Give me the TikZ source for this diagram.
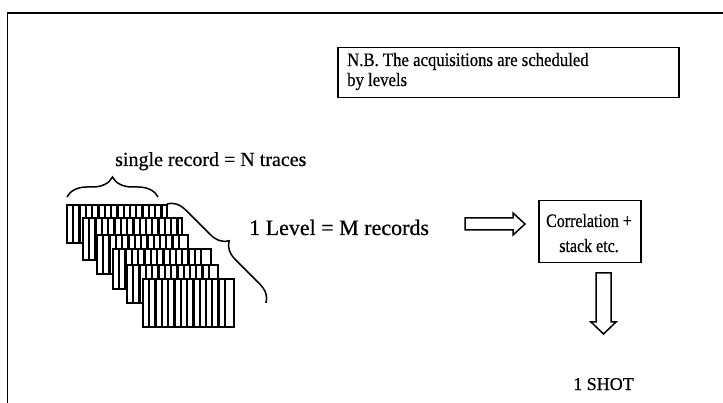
\documentclass[tikz,border=0pt]{standalone}
\usepackage{fontspec}
\setmainfont[FakeBold=0.6]{Liberation Serif}
\newfontfamily\narrowserif[FakeStretch=0.88,FakeBold=0.6]{Liberation Serif}
\newfontfamily\condserif[FakeStretch=0.84,FakeBold=0.6]{Liberation Serif}
\usetikzlibrary{decorations.pathreplacing}
\begin{document}
\begin{tikzpicture}[x=1pt,y=-1pt,line join=miter]
\tikzset{
  frame/.style={line width=1.3pt},
  txt/.style={inner sep=0pt},
  boxed/.style={draw, line width=1.5pt, inner sep=0pt},
  rec/.style={draw, line width=2pt, fill=white},
  stripe/.style={line width=2.3pt},
  hollow/.style={draw, line width=1.5pt, fill=white},
  brc/.style={decorate, decoration={brace, amplitude=#1}, line width=1.5pt}
}
\useasboundingbox (0,0) rectangle (723,403);
% outer frame (only top and left visible)
\draw[frame] (7.5,403) -- (7.5,13) -- (723,13);

% N.B. box
\node[boxed, minimum width=341pt, minimum height=50pt, anchor=north west] (nb) at (337,47) {};
\node[txt, anchor=base west, align=left, font=\narrowserif\fontsize{19}{20}\selectfont] (nbt) at (347,86) {N.B. The acquisitions are scheduled\\by levels};

% records
\foreach \xa/\ya/\xb/\yb [count=\i] in {67/205/167/243, 83/218/182/260, 97/235/188/274, 113/249/211/289, 127/265/218/303, 143/279/234/327}{
  \draw[rec] (\xa,\ya) coordinate (r\i nw) rectangle (\xb,\yb) coordinate (r\i se);
  \pgfmathtruncatemacro\n{(\xb-\xa-4)/6.3}
  \foreach \k in {1,...,\n}{
    \draw[stripe] ({\xa+\k*6.3},\ya) -- ({\xa+\k*6.3},\yb);
  }
}

% braces
\coordinate (b1s) at (67,197);
\coordinate (b1e) at (158,197);
\draw[brc=20pt] (b1s) -- (b1e);
\node[txt, anchor=base west, font=\fontsize{20}{22}\selectfont] (single) at (115,166) {single record = N traces};

\coordinate (b2s) at (167,204);
\coordinate (b2e) at (266,303);
\draw[brc=18pt] (b2s) -- (b2e);
\node[txt, anchor=base west, font=\fontsize{22}{24}\selectfont] (level) at (249,235) {1 Level = M records};

% right hollow arrow
\draw[hollow] (465,218) -- (513,218) -- (513,213) -- (525,224) -- (513,235) -- (513,230) -- (465,230) -- cycle;

% correlation box
\node[boxed, minimum width=102pt, minimum height=62pt, anchor=north west] (corr) at (538,200) {};
\node[txt, anchor=base, align=center, font=\condserif\fontsize{19}{25}\selectfont] (corrt) at (589,252) {Correlation +\\stack etc.};

% down hollow arrow
\draw[hollow] (596,273) -- (611,273) -- (611,322) -- (616,322) -- (603.5,334) -- (591,322) -- (596,322) -- cycle;

% 1 SHOT
\node[txt, anchor=base, font=\fontsize{18}{20}\selectfont] (shot) at (603.5,390) {1 SHOT};
\end{tikzpicture}
\end{document}
